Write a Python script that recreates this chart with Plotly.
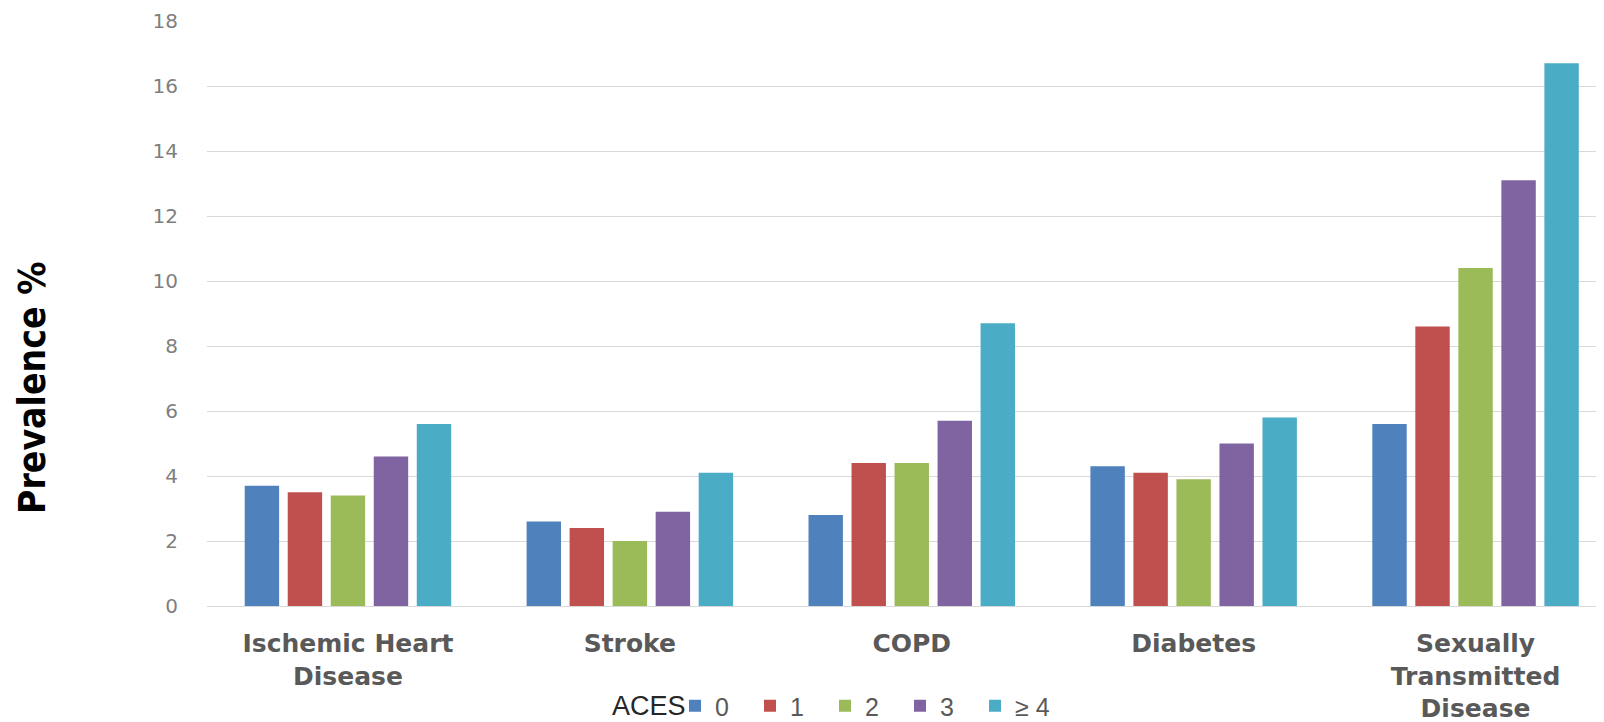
import plotly.graph_objects as go

categories = ["Ischemic Heart<br>Disease", "Stroke", "COPD", "Diabetes", "Sexually<br>Transmitted<br>Disease"]
series_names = ["0", "1", "2", "3", "≥ 4"]
aces_0 = [3.7, 2.6, 2.8, 4.3, 5.6]
aces_1 = [3.5, 2.4, 4.4, 4.1, 8.6]
aces_2 = [3.4, 2.0, 4.4, 3.9, 10.4]
aces_3 = [4.6, 2.9, 5.7, 5.0, 13.1]
aces_4plus = [5.6, 4.1, 8.7, 5.8, 16.7]
y_ticks = [0, 2, 4, 6, 8, 10, 12, 14, 16, 18]
legend_title = "ACES"

colors = ["#4F81BD", "#C0504D", "#9BBB59", "#8064A2", "#4BACC6"]
series = [aces_0, aces_1, aces_2, aces_3, aces_4plus]

fig = go.Figure()
for name, vals, col in zip(series_names, series, colors):
    fig.add_trace(go.Bar(x=categories, y=vals, name=name, marker_color=col,
                         marker_line_width=0))

# page has an 8px body margin; figure sized to fit the 1604x722 window
L, T, B = 199, 13, 116
W, H = 1596, 714
pw = W - L
ph = H - T - B
bottom = T + ph  # plot bottom in figure px

fig.update_layout(
    width=W, height=H,
    margin=dict(l=L, r=0, t=T, b=B, pad=0, autoexpand=False),
    plot_bgcolor="white", paper_bgcolor="white",
    barmode="group", bargap=0.237, bargroupgap=0.2,
    xaxis=dict(range=[-0.5, -0.5 + pw / 281.9], showgrid=False, showline=False,
               ticks="", tickfont=dict(family="DejaVu Sans", size=25, color="#595959", weight="bold"),
               tickangle=0, ticklabelstandoff=20),
    yaxis=dict(range=[0, 18], tickvals=y_ticks, showgrid=True, gridcolor="#D9D9D9",
               gridwidth=1, zeroline=True, zerolinecolor="#D9D9D9", zerolinewidth=1,
               showline=False, ticks="",
               tickfont=dict(family="DejaVu Sans", size=20, color="#7F7F7F"),
               ticklabelstandoff=28),
    legend=dict(orientation="h", x=(667 - L) / pw, xanchor="left",
                y=(bottom - 698) / ph, yanchor="middle",
                font=dict(family="Liberation Sans", size=25, color="#595959"),
                entrywidth=30, itemwidth=30, tracegroupgap=0, bgcolor="rgba(0,0,0,0)"),
    showlegend=True,
)

fig.add_annotation(text=legend_title, xref="paper", yref="paper",
                   x=(680 - L) / pw, y=(bottom - 698) / ph, xanchor="right", yanchor="middle",
                   showarrow=False,
                   font=dict(family="Liberation Sans", size=27, color="#262626"))

fig.add_annotation(text="<b>Prevalence %</b>", xref="paper", yref="paper",
                   x=(24 - L) / pw, y=(bottom - 380) / ph, xanchor="center", yanchor="middle",
                   textangle=-90, showarrow=False,
                   font=dict(family="Liberation Sans Narrow, DejaVu Sans Condensed", size=37, color="#000000"))

fig.write_html("out.html")
